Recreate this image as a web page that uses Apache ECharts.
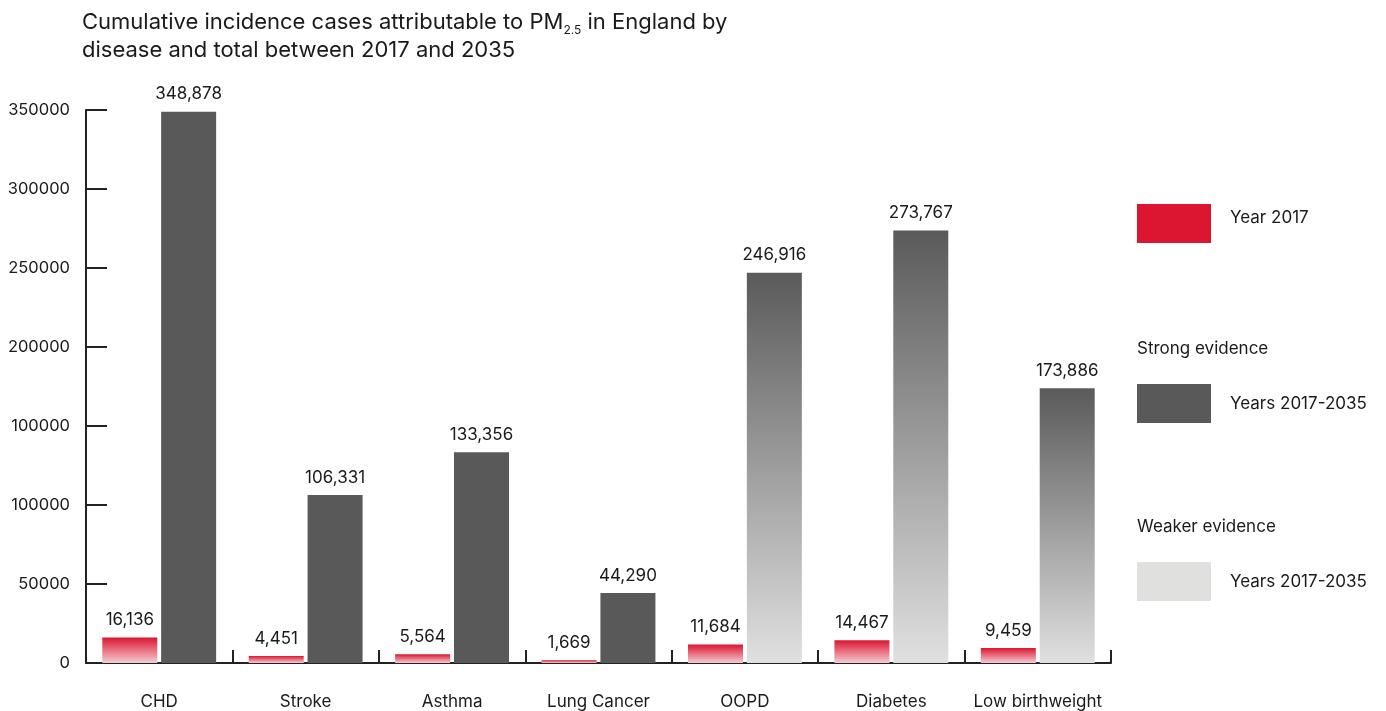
<!DOCTYPE html>
<html>
<head>
<meta charset="utf-8">
<script src="https://cdn.jsdelivr.net/npm/echarts@6/dist/echarts.min.js"></script>
<style>
html,body{margin:0;padding:0;background:#fff;}
#chart{width:1386px;height:711px;}
</style>
</head>
<body>
<div id="chart"></div>
<script>
var categories = ['CHD','Stroke','Asthma','Lung Cancer','OOPD','Diabetes','Low birthweight'];
var year2017 = [16136, 4451, 5564, 1669, 11684, 14467, 9459];
var strongEvidence = [348878, 106331, 133356, 44290, null, null, null];
var weakerEvidence = [null, null, null, null, 246916, 273767, 173886];
var yTickLabels = ['0','50000','100000','100000','200000','250000','300000','350000'];

var FONT = 'Inter, "Liberation Sans", Arial, sans-serif';
var chart = echarts.init(document.getElementById('chart'));

function fmt(p){ return p.value == null ? '' : Number(p.value).toLocaleString('en-US'); }

var labelCfg = {show:true, position:'top', distance:9, fontSize:17, color:'#1a1a1a', fontFamily:FONT, formatter:fmt};

var option = {
  backgroundColor:'#fff',
  animation:false,
  title:{
    left:82, top:8, padding:0,
    text:'{a|Cumulative incidence cases attributable to PM}{s|2.5}{a| in England by}\n{a|disease and total between 2017 and 2035}',
    textStyle:{
      fontWeight:'normal',
      rich:{
        a:{fontSize:22, color:'#1a1a1a', fontFamily:FONT, fontWeight:'normal', lineHeight:28},
        s:{fontSize:12, color:'#1a1a1a', fontFamily:FONT, fontWeight:'normal', lineHeight:28, verticalAlign:'bottom', padding:[12,0,0,0]}
      }
    }
  },
  grid:{left:86, right:275, top:110, bottom:48, containLabel:false},
  xAxis:{
    type:'category', data:categories,
    axisLine:{lineStyle:{color:'#222', width:2}},
    axisTick:{show:true, inside:true, interval:0, length:13, lineStyle:{color:'#222', width:2}},
    axisLabel:{interval:0, fontSize:17, color:'#1a1a1a', fontFamily:FONT, margin:30}
  },
  yAxis:{
    type:'value', min:0, max:350000, interval:50000,
    axisLine:{show:true, lineStyle:{color:'#222', width:2}},
    axisTick:{show:true, inside:true, length:21, lineStyle:{color:'#222', width:2}},
    splitLine:{show:false},
    axisLabel:{fontSize:16.5, color:'#1a1a1a', fontFamily:FONT, margin:16,
      formatter:function(v){ return yTickLabels[Math.round(v/50000)]; }}
  },
  legend:[
    {data:[{name:'Year 2017', itemStyle:{color:'#dc1530'}}], left:1137, top:204, padding:0, itemWidth:74, itemHeight:39, icon:'rect', selectedMode:false,
      formatter:function(n){return '{t|' + n + '}';},
      textStyle:{fontSize:17, color:'#1a1a1a', fontFamily:FONT, padding:[0,0,0,14],
        rich:{t:{fontSize:17, color:'#1a1a1a', fontFamily:FONT, padding:[0,0,12,0]}}}},
    {data:[{name:'Strong evidence', itemStyle:{color:'#595959'}}], left:1137, top:384, padding:0, itemWidth:74, itemHeight:39, icon:'rect', selectedMode:false,
      formatter:function(){return 'Years 2017-2035';},
      textStyle:{fontSize:17, color:'#1a1a1a', fontFamily:FONT, padding:[0,0,0,14]}},
    {data:[{name:'Weaker evidence', itemStyle:{color:'#e0e0df'}}], left:1137, top:562, padding:0, itemWidth:74, itemHeight:39, icon:'rect', selectedMode:false,
      formatter:function(){return 'Years 2017-2035';},
      textStyle:{fontSize:17, color:'#1a1a1a', fontFamily:FONT, padding:[0,0,0,14]}}
  ],
  graphic:[
    {type:'text', left:1137, top:340, style:{text:'Strong evidence', fontSize:17, fill:'#1a1a1a', fontFamily:FONT}},
    {type:'text', left:1137, top:518, style:{text:'Weaker evidence', fontSize:17, fill:'#1a1a1a', fontFamily:FONT}}
  ],
  series:[
    {name:'Year 2017', type:'bar', data:year2017, barWidth:55, barGap:'7%',
      itemStyle:{color:new echarts.graphic.LinearGradient(0,0,0,1,[{offset:0,color:'#dc1530'},{offset:1,color:'#f3cdd2'}])},
      label:labelCfg},
    {name:'Strong evidence', type:'bar', stack:'total', data:strongEvidence, barWidth:55,
      itemStyle:{color:'#595959'}, label:labelCfg},
    {name:'Weaker evidence', type:'bar', stack:'total', data:weakerEvidence, barWidth:55,
      itemStyle:{color:new echarts.graphic.LinearGradient(0,0,0,1,[{offset:0,color:'#5a5a5a'},{offset:1,color:'#e0e0e0'}])},
      label:labelCfg}
  ]
};
chart.setOption(option);
</script>
</body>
</html>
